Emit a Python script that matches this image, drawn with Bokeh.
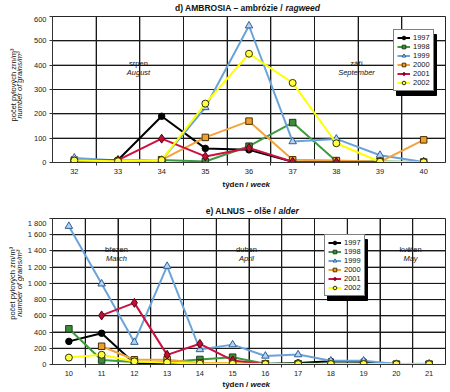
import math
from bokeh.plotting import figure
from bokeh.layouts import column, row
from bokeh.models import Range1d, FixedTicker, Legend, LegendItem, Label
from bokeh.embed import file_html
from bokeh.resources import INLINE

nan = float("nan")

years = ["1997", "1998", "1999", "2000", "2001", "2002"]

# ---- panel d) AMBROSIA ----
weeks_a = [32, 33, 34, 35, 36, 37, 38, 39, 40]
amb_1997 = [5, 10, 190, 58, 52, 3, 2, 2, 2]
amb_1998 = [10, 5, 10, 4, 67, 164, 5, 4, 2]
amb_1999 = [19, 8, 10, 226, 562, 86, 97, 30, 2]
amb_2000 = [3, 3, 11, 103, 170, 11, 8, 3, 93]
amb_2001 = [5, 10, 98, 25, 60, 3, 2, 2, 2]
amb_2002 = [8, 5, 10, 242, 447, 327, 79, 3, 1]
yticks_a = [0, 100, 200, 300, 400, 500, 600]
ylabels_a = ["0", "100", "200", "300", "400", "500", "600"]

# ---- panel e) ALNUS ----
weeks_b = [10, 11, 12, 13, 14, 15, 16, 17, 18, 19, 20, 21]
aln_1997 = [285, 385, 15, 10, 10, 5, 5, 20, 40, 35, 2, nan]
aln_1998 = [440, 55, 30, 30, 62, 90, 10, 8, 8, 8, 3, 3]
aln_1999 = [1705, 995, 275, 1212, 185, 245, 105, 122, 45, 45, 5, 10]
aln_2000 = [nan, 225, 58, 60, 20, 20, 5, 3, 3, 3, 3, 3]
aln_2001 = [nan, 605, 760, 119, 255, 50, 3, nan, nan, nan, nan, nan]
aln_2002 = [85, 120, 38, 25, 10, 8, 5, 5, 5, 5, 3, 3]
yticks_b = [0, 200, 400, 600, 800, 1000, 1200, 1400, 1600, 1800]
ylabels_b = ["0", "200", "400", "600", "800", "1 000", "1 200", "1 400", "1 600", "1 800"]

FONT = "Liberation Sans"
TXT = "#111111"
GRID = "#1a1a1a"
STY = {
    "1997": dict(line="#000000", marker="circle", fill="#000000", edge="#000000", size=6.5),
    "1998": dict(line="#3f9a3f", marker="square", fill="#3c8c3c", edge="#1d3d1d", size=6.5),
    "1999": dict(line="#6aa3d8", marker="triangle", fill="#b4d4f0", edge="#2f5f99", size=7.5),
    "2000": dict(line="#f2a33a", marker="square", fill="#f0a030", edge="#4a3000", size=6.5),
    "2001": dict(line="#cc1040", marker="diamond", fill="#c01030", edge="#5a0018", size=9),
    "2002": dict(line="#ffff00", marker="circle", fill="#ffff40", edge="#333300", size=7),
}

W = 448          # page width used
YL = 24          # width of the y-label strip
FL, FR = 52, 445  # frame left/right in page px
FH = 146          # frame height in px


def text_fig(x_off, y_off, w, h):
    """A blank figure whose data coordinates are page pixels."""
    f = figure(width=w, height=h, output_backend="svg", toolbar_location=None,
               x_range=Range1d(x_off, x_off + w), y_range=Range1d(y_off + h, y_off),
               x_axis_location=None, y_axis_location=None, min_border=0,
               outline_line_color=None, title=None)
    f.xgrid.visible = False
    f.ygrid.visible = False
    return f


def put(f, px, py, text, style="normal", align="center", size="8px", angle=0.0):
    f.add_layout(Label(x=px, y=py, text=text, text_font=FONT, text_font_size=size,
                       text_font_style=style, text_color=TXT, text_align=align,
                       text_baseline="middle", angle=angle))


def main_fig(weeks, series, ymax, yticks, ylabels, ftop, bbot, notes, leg_left, leg_bottom):
    fbot = ftop + FH
    x0, x1 = weeks[0] - 0.5, weeks[-1] + 0.5

    def X(px):
        return x0 + (px - FL) * (x1 - x0) / (FR - FL)

    def Y(py):
        return (fbot - py) * ymax / float(FH)

    p = figure(width=W - YL, height=FH + bbot, title=None,
               output_backend="svg", toolbar_location=None,
               x_range=Range1d(x0, x1), y_range=Range1d(0, ymax),
               min_border_left=FL - YL, min_border_right=W - FR,
               min_border_top=0, min_border_bottom=bbot)
    p.outline_line_color = "#333333"
    bounds = [w + 0.5 for w in weeks[:-1]]

    p.xgrid.ticker = FixedTicker(ticks=bounds)
    for g in (p.xgrid[0], p.ygrid[0]):
        g.grid_line_color = GRID
        g.grid_line_width = 1

    # extra grid strokes at category boundaries and value ticks (plus frame edges)
    vlines = [x0] + bounds + [x1]
    p.segment(x0=vlines, y0=[0] * len(vlines), x1=vlines, y1=[ymax] * len(vlines),
              line_color=GRID, line_width=1)
    p.segment(x0=[x0] * len(yticks), y0=yticks, x1=[x1] * len(yticks), y1=yticks,
              line_color=GRID, line_width=1)

    xa = p.xaxis[0]
    xa.ticker = FixedTicker(ticks=weeks, minor_ticks=bounds)
    xa.major_tick_line_color = None
    xa.major_tick_in = 0
    xa.major_tick_out = 0
    xa.minor_tick_in = 0
    xa.minor_tick_out = 3
    xa.minor_tick_line_color = "#333333"
    xa.axis_line_color = "#333333"
    xa.major_label_text_font = FONT
    xa.major_label_text_font_size = "7.5px"
    xa.major_label_text_color = "#222222"
    xa.major_label_standoff = 3

    ya = p.yaxis[0]
    ya.ticker = FixedTicker(ticks=yticks)
    ya.major_label_overrides = {t: l for t, l in zip(yticks, ylabels)}
    ya.minor_tick_line_color = None
    ya.major_tick_in = 0
    ya.major_tick_out = 3
    ya.major_tick_line_color = "#333333"
    ya.axis_line_color = "#333333"
    ya.major_label_text_font = FONT
    ya.major_label_text_font_size = "7.5px"
    ya.major_label_text_color = "#222222"
    ya.major_label_standoff = 3

    # legend drop shadow (decoration) right of and below the legend box
    lw, lh = 39, 60
    L = FL + leg_left
    B = fbot - leg_bottom
    R, T = L + lw, B - lh
    p.quad(left=[X(L + 3)], right=[X(R + 4)], top=[Y(T + 3)], bottom=[Y(B + 4)],
           fill_color="black", line_color="black", line_width=1)

    items = []
    for yr in years:
        s = STY[yr]
        vals = series[yr]
        lr = p.line(weeks, vals, line_color=s["line"], line_width=2)
        sr = p.scatter(weeks, vals, marker=s["marker"], size=s["size"],
                       fill_color=s["fill"], line_color=s["edge"], line_width=1)
        items.append(LegendItem(label=yr, renderers=[lr, sr]))

    for (cx, cy, l1, l2) in notes:
        p.add_layout(Label(x=X(cx), y=Y(cy), text=l1, text_font=FONT, text_font_size="7.5px",
                           text_color=TXT, text_align="center", text_baseline="middle"))
        p.add_layout(Label(x=X(cx), y=Y(cy + 9), text=l2, text_font=FONT, text_font_size="7.5px",
                           text_font_style="italic", text_color=TXT, text_align="center",
                           text_baseline="middle"))

    leg = Legend(items=items, location=(leg_left, leg_bottom),
                 label_text_font=FONT, label_text_font_size="7.5px",
                 label_text_color=TXT,
                 glyph_width=13, glyph_height=9, label_height=9, label_width=16,
                 label_standoff=3, padding=3, spacing=0, margin=0,
                 border_line_color="black", border_line_width=1,
                 background_fill_color="white", background_fill_alpha=1)
    p.add_layout(leg)
    return p


ser_a = dict(zip(years, [amb_1997, amb_1998, amb_1999, amb_2000, amb_2001, amb_2002]))
ser_b = dict(zip(years, [aln_1997, aln_1998, aln_1999, aln_2000, aln_2001, aln_2002]))

# ---------- panel d ----------
t_a = text_fig(0, 0, W, 16)
put(t_a, 285, 7.5, "d) AMBROSIA – ambrózie / ", "bold", "right", "8.5px")
put(t_a, 285, 7.5, "ragweed", "bold italic", "left", "8.5px")

yl_a = text_fig(0, 16, YL, 162)
put(yl_a, 12.5, 92, "počet pylových zrn/m³", "normal", "center", "7.5px", math.pi / 2)
put(yl_a, 19, 92, "number of grains/m³", "italic", "center", "7.5px", math.pi / 2)

m_a = main_fig(weeks_a, ser_a, 600, yticks_a, ylabels_a, 16, 16,
               [(138, 63, "srpen", "August"), (356, 63, "září", "September")], 341, 71)

x_a = text_fig(0, 178, W, 14)
put(x_a, 250, 183.5, "týden / ", "bold", "right", "8px")
put(x_a, 250, 183.5, "week", "bold italic", "left", "8px")

# ---------- panel e ----------
t_b = text_fig(0, 192, W, 26)
put(t_b, 278, 210, "e) ALNUS – olše / ", "bold", "right", "8.5px")
put(t_b, 278, 210, "alder", "bold italic", "left", "8.5px")

yl_b = text_fig(0, 218, YL, 160)
put(yl_b, 12, 289, "počet pylových zrn/m³", "normal", "center", "7.5px", math.pi / 2)
put(yl_b, 18.5, 289, "number of grains/m³", "italic", "center", "7.5px", math.pi / 2)

m_b = main_fig(weeks_b, ser_b, 1800, yticks_b, ylabels_b, 218, 14,
               [(116, 249, "březen", "March"), (246, 249, "duben", "April"),
                (410, 249, "květen", "May")], 272, 68)

x_b = text_fig(0, 378, W, 13)
put(x_b, 250, 384, "týden / ", "bold", "right", "8px")
put(x_b, 250, 384, "week", "bold italic", "left", "8px")

layout = column(t_a, row(yl_a, m_a), x_a, t_b, row(yl_b, m_b), x_b)
open("out.html", "w").write(file_html(layout, INLINE))
